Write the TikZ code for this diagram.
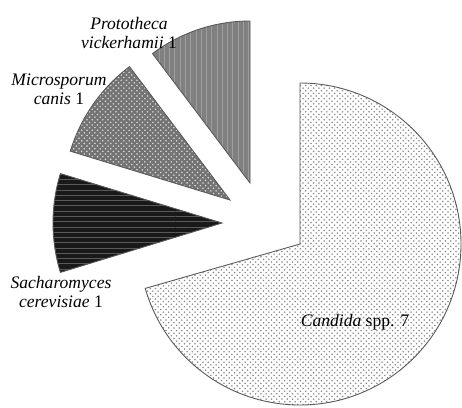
\documentclass[tikz,border=0pt]{standalone}
\usepackage{fontspec}
\setmainfont{Liberation Serif}
\usetikzlibrary{patterns}
\tikzset{
    slice/.style = {
      draw=black!65,
      line width=0.5pt
    },
    candidaslice/.style = {
      slice,
      preaction={fill=white},
      pattern=crosshatch dots,
      pattern color=black!45
    },
    protoslice/.style = {
      slice,
      preaction={fill=black!50},
      pattern=vertical lines,
      pattern color=black!38
    },
    microslice/.style = {
      slice,
      preaction={fill=black!55},
      pattern=crosshatch dots,
      pattern color=black!15
    },
    sacchslice/.style = {
      slice,
      preaction={fill=black!90},
      pattern=horizontal lines,
      pattern color=black!65
    },
    slicelabel/.style = {
      align=center,
      inner sep=0pt,
      font=\fontsize{10}{11}\selectfont
    },
}

\begin{document}
\begin{tikzpicture}[x=0.02cm, y=0.02cm]
      \useasboundingbox (0,0) rectangle (462,407);

      % apex of every slice
      \coordinate (candida) at (300,163);
      \coordinate (sacch) at (222,184);
      \coordinate (micro) at (230,207);
      \coordinate (proto) at (250,224);

      \draw[candidaslice] (candida) -- ++(90:161)
        arc[start angle=90, end angle=-164, radius=161] -- cycle;
      \draw[sacchslice] (sacch) -- ++(163:169)
        arc[start angle=163, end angle=197, radius=169] -- cycle;
      \draw[microslice] (micro) -- ++(127:167)
        arc[start angle=127, end angle=163, radius=167] -- cycle;
      \draw[protoslice] (proto) -- ++(90:162)
        arc[start angle=90, end angle=127, radius=162] -- cycle;

      \node [slicelabel] (candidalbl) at (355,85) {\textit{Candida} spp. 7};
      \node [slicelabel] (sacchlbl) at (61,115) {\textit{Sacharomyces}\\\textit{cerevisiae} 1};
      \node [slicelabel] (microlbl) at (59,318) {\textit{Microsporum}\\\textit{canis} 1};
      \node [slicelabel] (protolbl) at (129,374) {\textit{Prototheca}\\\textit{vickerhamii} 1};
    \end{tikzpicture}
\end{document}
